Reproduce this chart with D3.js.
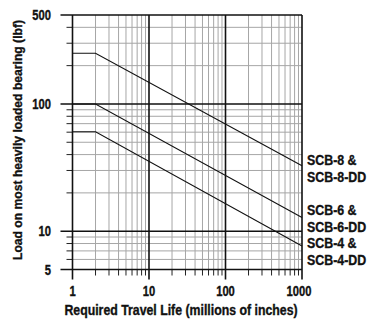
<!DOCTYPE html>
<html>
<head>
<meta charset="utf-8">
<script src="https://cdn.jsdelivr.net/npm/d3@7"></script>
<style>
  html, body { margin: 0; padding: 0; background: #fff; }
  svg text { font-family: "Liberation Sans", Arial, sans-serif; font-weight: bold; fill: #111; stroke: #111; stroke-width: 0.35; }
</style>
</head>
<body>
<svg id="chart" width="367" height="320"></svg>
<script>
// Required travel life (millions of inches) at the break points of each rating curve
const life = [1, 2, 1000];
// Load ratings (lbf) for each bearing size
const scb8 = [250, 250, 32.7];
const scb6 = [100, 100, 12.8];
const scb4 = [60.5, 60.5, 7.65];

const seriesLabels = [
  ["SCB-8 &", "SCB-8-DD"],
  ["SCB-6 &", "SCB-6-DD"],
  ["SCB-4 &", "SCB-4-DD"]
];

const xTickLabels = [1, 10, 100, 1000];
const yTickLabels = [5, 10, 100, 500];
const xMajor = [1, 10, 100, 1000];
const yMajor = [5, 10, 100, 500];

const xTitle = "Required Travel Life (millions of inches)";
const yTitle = "Load on most heavily loaded bearing (lbf)";

const svg = d3.select("#chart");
const plotL = 72.5, plotR = 302, plotT = 15, plotB = 269.5;
const SQUEEZE = 0.8; // horizontal compression giving a condensed bold face

const x = d3.scaleLog().domain([1, 1000]).range([plotL, plotR]);
const y = d3.scaleLog().domain([5, 500]).range([plotB, plotT]);

// minor grid values: 2..9 within each decade
const xMinor = [];
[1, 10, 100].forEach(d => { for (let k = 2; k <= 9; k++) xMinor.push(d * k); });
const yMinor = [6, 7, 8, 9, 20, 30, 40, 50, 60, 70, 80, 90, 200, 300, 400];

const grid = svg.append("g");
// light minor grid
grid.append("g").selectAll("line").data(xMinor).join("line")
  .attr("x1", d => x(d)).attr("x2", d => x(d))
  .attr("y1", plotT).attr("y2", plotB)
  .attr("stroke", "#a6a6a6").attr("stroke-width", 1);
grid.append("g").selectAll("line").data(yMinor).join("line")
  .attr("x1", plotL).attr("x2", plotR)
  .attr("y1", d => y(d)).attr("y2", d => y(d))
  .attr("stroke", "#a6a6a6").attr("stroke-width", 1);

// minor tick stubs outside the frame
grid.append("g").selectAll("line").data(xMinor).join("line")
  .attr("x1", d => x(d)).attr("x2", d => x(d))
  .attr("y1", plotB).attr("y2", plotB + 6)
  .attr("stroke", "#222").attr("stroke-width", 1);
grid.append("g").selectAll("line").data(yMinor).join("line")
  .attr("x1", plotL - 6).attr("x2", plotL)
  .attr("y1", d => y(d)).attr("y2", d => y(d))
  .attr("stroke", "#222").attr("stroke-width", 1);

// major grid lines with long ticks
grid.append("g").selectAll("line").data(xMajor).join("line")
  .attr("x1", d => x(d)).attr("x2", d => x(d))
  .attr("y1", plotT).attr("y2", plotB + 10)
  .attr("stroke", "#111").attr("stroke-width", 1.6);
grid.append("g").selectAll("line").data(yMajor).join("line")
  .attr("x1", plotL - 12).attr("x2", plotR)
  .attr("y1", d => y(d)).attr("y2", d => y(d))
  .attr("stroke", "#111").attr("stroke-width", 1.6);

// tick labels
svg.append("g").selectAll("text").data(xTickLabels).join("text")
  .attr("transform", d => `translate(${x(d) - (d === 1000 ? 3 : 0)},296) scale(${SQUEEZE},1)`)
  .attr("text-anchor", "middle").attr("font-size", 14)
  .text(d => d);
svg.append("g").selectAll("text").data(yTickLabels).join("text")
  .attr("transform", d => `translate(51,${y(d) + 5}) scale(${SQUEEZE},1)`)
  .attr("text-anchor", "end").attr("font-size", 14)
  .text(d => d);

// axis titles
svg.append("text")
  .attr("transform", `translate(181,315) scale(0.88,1)`)
  .attr("text-anchor", "middle").attr("font-size", 14)
  .text(xTitle);
svg.append("text")
  .attr("transform", `translate(21.5,140) rotate(-90) scale(0.9,1)`)
  .attr("text-anchor", "middle").attr("font-size", 13.5)
  .text(yTitle);

// rating curves
const line = d3.line().x(d => x(d[0])).y(d => y(d[1]));
const series = [scb8, scb6, scb4];
svg.append("g").selectAll("path").data(series).join("path")
  .attr("d", s => line(life.map((l, i) => [l, s[i]])))
  .attr("fill", "none").attr("stroke", "#111").attr("stroke-width", 1.1);

// series labels at the right
const labelY = [165, 215, 248.3];
const lg = svg.append("g").selectAll("g").data(seriesLabels).join("g")
  .attr("transform", (d, i) => `translate(307,${labelY[i]}) scale(${SQUEEZE},1)`);
lg.selectAll("text").data(d => d).join("text")
  .attr("x", 0).attr("y", (d, i) => i * 16.7)
  .attr("font-size", 15.5)
  .text(d => d);
</script>
</body>
</html>
